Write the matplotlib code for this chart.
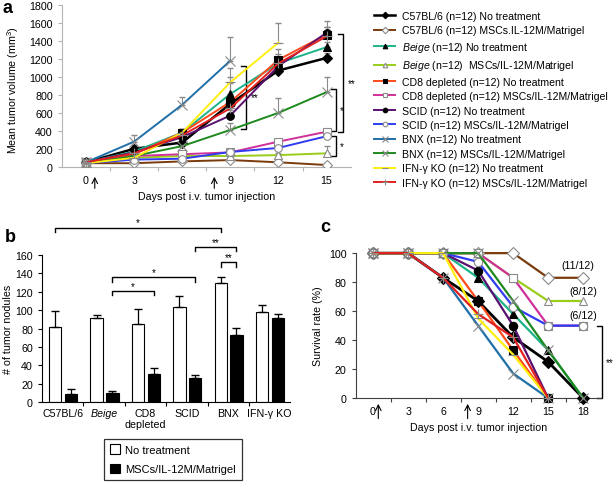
import numpy as np
import matplotlib
matplotlib.use('Agg')
import matplotlib.pyplot as plt
from matplotlib.patches import Patch

plt.rcParams['font.family'] = ['Liberation Sans', 'DejaVu Sans']
plt.rcParams['mathtext.fontset'] = 'custom'
plt.rcParams['mathtext.rm'] = 'Liberation Sans'
plt.rcParams['mathtext.it'] = 'Liberation Sans:italic'

nan = np.nan

# ---------------------------------------------------------------------------
# Panel a - mean tumour volume
# ---------------------------------------------------------------------------
days_a = [0, 3, 6, 9, 12, 15]
c57_nt = [50, 200, 270, 700, 1070, 1210]
c57_msc = [40, 40, 60, 75, 50, 20]
beige_nt = [50, 170, 380, 810, 1150, 1330]
beige_msc = [40, 100, 120, 120, 130, 150]
cd8_nt = [50, 140, 380, 720, 1190, 1470]
cd8_msc = [50, 120, 140, 160, 280, 390]
scid_nt = [50, 160, 330, 570, 1120, 1490]
scid_msc = [40, 80, 90, 165, 210, 340]
bnx_nt = [50, 280, 690, 1180, nan, nan]
bnx_msc = [40, 120, 230, 410, 600, 830]
ifn_nt = [40, 100, 380, 940, 1380, nan]
ifn_msc = [50, 150, 350, 650, 1150, 1450]

# upper error bars
c57_nt_err = [30, 40, 40, 60, 50, 60]
c57_msc_err = [20, 20, 20, 20, 20, 20]
beige_nt_err = [30, 30, 40, 290, 60, 60]
beige_msc_err = [20, 20, 20, 20, 20, 80]
cd8_nt_err = [30, 40, 40, 210, 120, 150]
cd8_msc_err = [20, 20, 30, 20, 30, 30]
scid_nt_err = [30, 40, 40, 60, 60, 60]
scid_msc_err = [20, 20, 20, 20, 20, 40]
bnx_nt_err = [30, 70, 90, 260, nan, nan]
bnx_msc_err = [20, 30, 40, 80, 160, 170]
ifn_nt_err = [30, 40, 40, 60, 220, nan]
ifn_msc_err = [30, 40, 40, 60, 100, 100]

# ---------------------------------------------------------------------------
# Panel b - tumour nodules
# ---------------------------------------------------------------------------
strains = ['C57BL/6', 'Beige', 'CD8\ndepleted', 'SCID', 'BNX', 'IFN-γ KO']
nodules_nt = [82, 91, 85, 104, 130, 98]
nodules_nt_err = [17, 4, 16, 11, 6, 8]
nodules_msc = [9, 10, 30, 26, 73, 91]
nodules_msc_err = [5, 2, 7, 3, 8, 5]

# ---------------------------------------------------------------------------
# Panel c - survival
# ---------------------------------------------------------------------------
days_c = [0, 3, 6, 9, 12, 15, 18]
surv_c57_nt = [100, 100, 83, 67, 42, 25, 0]
surv_c57_msc = [100, 100, 100, 100, 100, 83, 83]
surv_beige_nt = [100, 100, 100, 83, 58, 33, 0]
surv_beige_msc = [100, 100, 100, 100, 83, 67, 67]
surv_cd8_nt = [100, 100, 100, 67, 33, 0, nan]
surv_cd8_msc = [100, 100, 100, 100, 83, 50, 50]
surv_scid_nt = [100, 100, 100, 88, 50, 0, nan]
surv_scid_msc = [100, 100, 100, 94, 63, 50, 50]
surv_bnx_nt = [100, 100, 83, 50, 17, 0, nan]
surv_bnx_msc = [100, 100, 100, 100, 67, 33, 0]
surv_ifn_nt = [100, 100, 100, 55, 30, 0, nan]
surv_ifn_msc = [100, 100, 83, 58, 42, 0, nan]

GREY = '#8a8a8a'
AXGREY = '#b4b4b4'
groups = [
    # label, colour, marker, face, tumour vol, err, survival, line width
    ('C57BL/6 (n=12) No treatment', 'black', 'D', 'black', c57_nt, c57_nt_err, surv_c57_nt, 2.0),
    ('C57BL/6 (n=12) MSCs.IL-12M/Matrigel', '#7a3b0c', 'D', 'white', c57_msc, c57_msc_err, surv_c57_msc, 1.6),
    (r'$\it{Beige}$ (n=12) No treatment', '#1db38a', '^', 'black', beige_nt, beige_nt_err, surv_beige_nt, 1.6),
    (r'$\it{Beige}$ (n=12)  MSCs/IL-12M/Matrigel', '#9acd1c', '^', 'white', beige_msc, beige_msc_err, surv_beige_msc, 1.6),
    ('CD8 depleted (n=12) No treatment', '#ff4a1c', 's', 'black', cd8_nt, cd8_nt_err, surv_cd8_nt, 1.6),
    ('CD8 depleted (n=12) MSCs/IL-12M/Matrigel', '#d0309a', 's', 'white', cd8_msc, cd8_msc_err, surv_cd8_msc, 1.6),
    ('SCID (n=12) No treatment', '#5a1070', 'o', 'black', scid_nt, scid_nt_err, surv_scid_nt, 1.6),
    ('SCID (n=12) MSCs/IL-12M/Matrigel', '#2f3cf0', 'o', 'white', scid_msc, scid_msc_err, surv_scid_msc, 1.6),
    ('BNX (n=12) No treatment', '#1f6fa8', 'x', 'none', bnx_nt, bnx_nt_err, surv_bnx_nt, 1.6),
    ('BNX (n=12) MSCs/IL-12M/Matrigel', '#1e8a1e', 'x', 'none', bnx_msc, bnx_msc_err, surv_bnx_msc, 1.6),
    ('IFN-γ KO (n=12) No treatment', '#ffee10', '_', 'none', ifn_nt, ifn_nt_err, surv_ifn_nt, 1.6),
    ('IFN-γ KO (n=12) MSCs/IL-12M/Matrigel', '#e02020', '+', 'none', ifn_msc, ifn_msc_err, surv_ifn_msc, 1.6),
]

fig = plt.figure(figsize=(6.13, 4.85), dpi=100)
FS = 7.7


def style_axes(ax, spine_col='black'):
    ax.spines['top'].set_visible(False)
    ax.spines['right'].set_visible(False)
    for s in ('left', 'bottom'):
        ax.spines[s].set_color(spine_col)
    ax.tick_params(labelsize=FS, length=3, width=0.8, color=spine_col,
                   which='both')


def bracket(ax, x0, x1, y, text, dy, fs=7, vertical=False, tdx=0.0):
    if vertical:
        ax.plot([x0 - dy, x0, x0, x0 - dy], [y[0], y[0], y[1], y[1]],
                color='black', lw=1.0, clip_on=False)
        ax.text(x0 + tdx, (y[0] + y[1]) / 2, text, fontsize=fs,
                ha='left', va='center')
    else:
        ax.plot([x0, x0, x1, x1], [y - dy, y, y, y - dy],
                color='black', lw=1.0, clip_on=False)
        ax.text((x0 + x1) / 2, y, text, fontsize=fs, ha='center', va='bottom')


# ----------------------------- panel a ------------------------------------
ax_a = fig.add_axes([0.101, 0.654, 0.471, 0.334])
handles = []
for label, col, mk, face, vol, err, _, lw in groups:
    up = np.array(err, dtype=float)
    ax_a.errorbar(days_a, vol, yerr=[np.zeros_like(up), up], fmt='none',
                  ecolor=GREY, elinewidth=0.8, capsize=2.5, zorder=1)
    mec = GREY if face in ('white', 'none') else 'black'
    h, = ax_a.plot(days_a, vol, color=col, lw=lw - 0.2, marker=mk,
                   markersize=5.5 if mk not in ('x', '+', '_') else 6.5,
                   markerfacecolor=face, markeredgecolor=mec,
                   markeredgewidth=0.8, zorder=3, label=label)
    handles.append(h)

ax_a.set_xlim(-1.5, 16.5)
ax_a.set_ylim(0, 1800)
ax_a.set_xticks(days_a)
ax_a.set_xticks(np.arange(1.5, 16, 3), minor=True)
ax_a.set_yticks(np.arange(0, 1801, 200))
style_axes(ax_a, AXGREY)
ax_a.tick_params(axis='x', which='major', length=0, pad=6)
ax_a.tick_params(axis='x', which='minor', length=3)
ax_a.set_ylabel('Mean tumor volume (mm$^3$)', fontsize=FS)
ax_a.yaxis.set_label_coords(-0.142, 0.48)
ax_a.set_xlabel('Days post i.v. tumor injection', fontsize=FS)
for d in (0.55, 8.0):
    ax_a.annotate('', xy=(d, -80), xytext=(d, -270),
                  arrowprops=dict(arrowstyle='->', color='black', lw=0.8),
                  annotation_clip=False)
bracket(ax_a, 9.95, None, (1120, 420), '**', 0.3, vertical=True, tdx=0.35)
bracket(ax_a, 16.0, None, (1480, 385), '**', 0.3, vertical=True, tdx=0.35)
bracket(ax_a, 15.6, None, (867, 403), '*', 0.3, vertical=True, tdx=0.2)
bracket(ax_a, 15.6, None, (344, 122), '*', 0.3, vertical=True, tdx=0.2)

fig.legend(handles=handles, loc='upper left', bbox_to_anchor=(0.595, 0.995),
           frameon=False, fontsize=7.6, handlelength=2.0, handletextpad=0.6,
           labelspacing=0.42, numpoints=1, markerscale=0.6)

# ----------------------------- panel b ------------------------------------
ax_b = fig.add_axes([0.0685, 0.169, 0.405, 0.303])
x = np.arange(len(strains))
w = 0.3
ax_b.bar(x - 0.18, nodules_nt, w, color='white', edgecolor='black', lw=0.8,
         yerr=[np.zeros(len(x)), nodules_nt_err], ecolor='black',
         error_kw=dict(elinewidth=0.9, capsize=3))
ax_b.bar(x + 0.2, nodules_msc, w, color='black', edgecolor='black', lw=0.8,
         yerr=[np.zeros(len(x)), nodules_msc_err], ecolor='black',
         error_kw=dict(elinewidth=0.9, capsize=3))
ax_b.set_xlim(-0.5, 5.5)
ax_b.set_ylim(0, 160)
ax_b.set_yticks(np.arange(0, 161, 20))
ax_b.set_xticks(x)
ax_b.set_xticklabels(strains)
ax_b.get_xticklabels()[1].set_style('italic')
ax_b.set_xticks(np.arange(0.5, 5, 1), minor=True)
style_axes(ax_b)
ax_b.tick_params(axis='x', which='major', length=0, pad=4)
ax_b.tick_params(axis='x', which='minor', length=3)
ax_b.set_ylabel('# of tumor nodules', fontsize=FS, labelpad=2)

bracket(ax_b, -0.18, 3.82, 190, '*', 5)
bracket(ax_b, 3.2, 4.2, 169, '**', 5)
bracket(ax_b, 3.82, 4.2, 152, '**', 5)
bracket(ax_b, 1.2, 3.2, 136, '*', 5)
bracket(ax_b, 1.2, 2.2, 121, '*', 5)

leg_b = fig.legend(handles=[Patch(facecolor='white', edgecolor='black', lw=0.8),
                            Patch(facecolor='black', edgecolor='black', lw=0.8)],
                   labels=['No treatment', 'MSCs/IL-12M/Matrigel'],
                   loc='center', bbox_to_anchor=(0.282, 0.051), fontsize=8,
                   fancybox=False, edgecolor='black', handlelength=0.9,
                   handleheight=0.9, labelspacing=0.8, borderpad=0.5,
                   handletextpad=0.5)
leg_b.get_frame().set_linewidth(0.9)

# ----------------------------- panel c ------------------------------------
ax_c = fig.add_axes([0.58, 0.177, 0.40, 0.299])
for label, col, mk, face, _, _, surv, lw in groups:
    mec = GREY if face in ('white', 'none') else 'black'
    ax_c.plot(days_c, surv, color=col, lw=lw, marker=mk,
              markersize=6 if mk not in ('x', '+', '_') else 7.5,
              markerfacecolor=face, markeredgecolor=mec, markeredgewidth=0.8,
              clip_on=False, zorder=3)
ax_c.set_xlim(-1.5, 19.5)
ax_c.set_ylim(0, 100)
ax_c.set_xticks(days_c)
ax_c.set_xticks(np.arange(1.5, 19, 3), minor=True)
ax_c.set_yticks(np.arange(0, 101, 20))
style_axes(ax_c, '#404040')
ax_c.tick_params(axis='x', which='major', length=0, pad=6)
ax_c.tick_params(axis='x', which='minor', length=3)
ax_c.set_ylabel('Survival rate (%)', fontsize=FS)
ax_c.set_xlabel('Days post i.v. tumor injection', fontsize=FS)
for d in (0.45, 8.1):
    ax_c.annotate('', xy=(d, -2), xytext=(d, -16),
                  arrowprops=dict(arrowstyle='->', color='black', lw=0.8),
                  annotation_clip=False)
ax_c.text(17.5, 92, '(11/12)', fontsize=FS, ha='center', va='center')
ax_c.text(18.0, 74, '(8/12)', fontsize=FS, ha='center', va='center')
ax_c.text(18.0, 57, '(6/12)', fontsize=FS, ha='center', va='center')
bracket(ax_c, 19.6, None, (50, 0), '**', 0.4, vertical=True, tdx=0.35)

# panel letters
fig.text(0.004, 0.982, 'a', fontsize=13, fontweight='bold', va='center')
fig.text(0.008, 0.51, 'b', fontsize=13, fontweight='bold', va='center')
fig.text(0.522, 0.53, 'c', fontsize=13, fontweight='bold', va='center')

fig.savefig('out.png', dpi=100)
